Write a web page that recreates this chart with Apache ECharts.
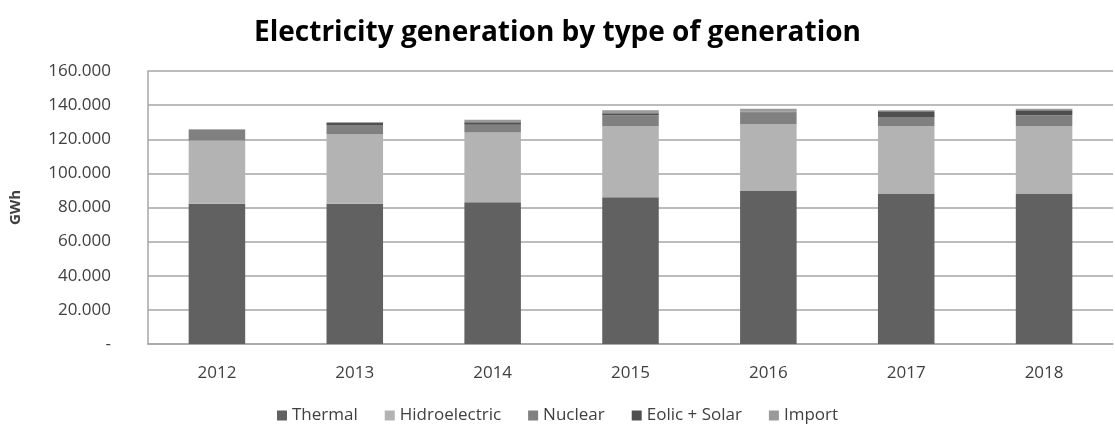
<!DOCTYPE html>
<html>
<head>
<meta charset="utf-8">
<script src="https://cdn.jsdelivr.net/npm/echarts@6/dist/echarts.min.js"></script>
<style>
html, body { margin: 0; padding: 0; background: #fff; }
#chart { width: 1115px; height: 430px; }
</style>
</head>
<body>
<div id="chart"></div>
<script>
var years = ['2012', '2013', '2014', '2015', '2016', '2017', '2018'];
var thermal = [82200, 82200, 83100, 86000, 89900, 87900, 87900];
var hidro = [37000, 40700, 40800, 41800, 38900, 39900, 39900];
var nuclear = [6300, 5400, 4600, 6300, 7000, 5300, 6300];
var eolic = [200, 1300, 1500, 1100, 300, 3300, 2900];
var importe = [200, 500, 1500, 1800, 1800, 600, 900];

var myChart = echarts.init(document.getElementById('chart'));

function fmt(v) {
	if (v === 0) return '-';
	return (v / 1000).toFixed(0) + '.000';
}

function bar(name, data, color) {
	return {
		name: name,
		type: 'bar',
		stack: 'total',
		barWidth: '41%',
		data: data,
		itemStyle: { color: color }
	};
}

var option = {
	animation: false,
	textStyle: { fontFamily: 'Open Sans' },
	title: {
		text: 'Electricity generation by type of generation',
		left: 'center',
		top: 14,
		textStyle: { fontFamily: 'Open Sans', fontWeight: 'bold', fontSize: 28, color: '#000' }
	},
	legend: {
		bottom: 1,
		left: 'center',
		itemWidth: 10,
		itemHeight: 10,
		itemGap: 27,
		icon: 'rect',
		textStyle: { fontSize: 17, color: '#404040' },
		data: ['Thermal', 'Hidroelectric', 'Nuclear', 'Eolic + Solar', 'Import']
	},
	grid: {
		left: 147,
		right: 2,
		top: 71,
		bottom: 86
	},
	xAxis: {
		type: 'category',
		data: years,
		axisTick: { show: false },
		axisLine: { lineStyle: { color: '#a6a6a6', width: 1.5 } },
		axisLabel: { fontSize: 17, color: '#404040', margin: 21 }
	},
	yAxis: {
		type: 'value',
		min: 0,
		max: 160000,
		interval: 20000,
		name: 'GWh',
		nameLocation: 'middle',
		nameGap: 125,
		nameTextStyle: { fontWeight: 'bold', fontSize: 15, color: '#404040' },
		axisLine: { show: true, lineStyle: { color: '#a6a6a6', width: 1.5 } },
		axisLabel: { fontSize: 17, color: '#404040', margin: 37, formatter: fmt },
		splitLine: { lineStyle: { color: '#a6a6a6', width: 1.5 } }
	},
	series: [
		bar('Thermal', thermal, '#616161'),
		bar('Hidroelectric', hidro, '#b3b3b3'),
		bar('Nuclear', nuclear, '#808080'),
		bar('Eolic + Solar', eolic, '#4f4f4f'),
		bar('Import', importe, '#9a9a9a')
	]
};
myChart.setOption(option);
</script>
</body>
</html>
